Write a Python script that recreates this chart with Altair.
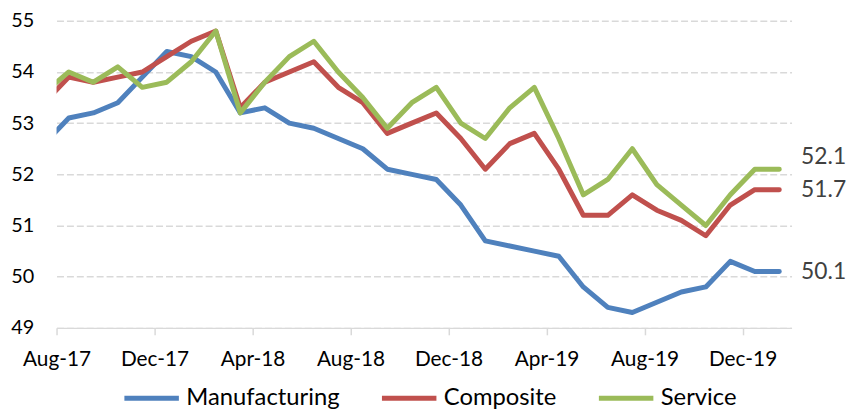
import json
import altair as alt
import pandas as pd

# Monthly PMI readings (first value lies before the axis start and is clipped)
manufacturing = [52.6, 53.1, 53.2, 53.4, 53.9, 54.4, 54.3, 54.0, 53.2, 53.3, 53.0,
                 52.9, 52.7, 52.5, 52.1, 52.0, 51.9, 51.4, 50.7, 50.6, 50.5, 50.4,
                 49.8, 49.4, 49.3, 49.5, 49.7, 49.8, 50.3, 50.1, 50.1]
composite = [53.4, 53.9, 53.8, 53.9, 54.0, 54.3, 54.6, 54.8, 53.3, 53.8, 54.0,
             54.2, 53.7, 53.4, 52.8, 53.0, 53.2, 52.7, 52.1, 52.6, 52.8, 52.1,
             51.2, 51.2, 51.6, 51.3, 51.1, 50.8, 51.4, 51.7, 51.7]
service = [53.6, 54.0, 53.8, 54.1, 53.7, 53.8, 54.2, 54.8, 53.2, 53.8, 54.3,
           54.6, 54.0, 53.5, 52.9, 53.4, 53.7, 53.0, 52.7, 53.3, 53.7, 52.7,
           51.6, 51.9, 52.5, 51.8, 51.4, 51.0, 51.6, 52.1, 52.1]

series_names = ["Manufacturing", "Composite", "Service"]
series_colors = ["#4F81BD", "#C0504D", "#9BBB59"]
tick_labels = ["Aug-17", "Dec-17", "Apr-18", "Aug-18", "Dec-18", "Apr-19", "Aug-19", "Dec-19"]
y_ticks = [49, 50, 51, 52, 53, 54, 55]

rows = []
for name, vals in zip(series_names, [manufacturing, composite, service]):
    for i, v in enumerate(vals):
        # month index; each point sits mid-month, axis starts at 0 (Aug-17)
        rows.append({"m": i - 0.5, "value": v, "series": name})
df = pd.DataFrame(rows)
last_m = df["m"].max()

FONT = "Lato"

color = alt.Color(
    "series:N",
    scale=alt.Scale(domain=series_names, range=series_colors),
    legend=alt.Legend(
        title=None,
        orient="none",
        direction="horizontal",
        legendX=66,
        legendY=351,
        symbolType="stroke",
        symbolSize=3025,
        symbolStrokeWidth=5,
        labelFont=FONT,
        labelFontSize=24,
        labelColor="#000000",
        labelLimit=400,
        labelOffset=5,
        columnPadding=32,
    ),
)

x = alt.X(
    "m:Q",
    scale=alt.Scale(domain=[0, 30], nice=False, zero=False),
    axis=alt.Axis(
        title=None,
        values=[0, 4, 8, 12, 16, 20, 24, 28],
        labelExpr=json.dumps(tick_labels) + "[round(datum.value / 4)]",
        labelOverlap=False,
        labelFlush=False,
        grid=False,
        tickSize=7,
        tickColor="#d9d9d9",
        tickWidth=1.5,
        domainColor="#d9d9d9",
        domainWidth=1.5,
        labelFont=FONT,
        labelFontSize=21,
        labelColor="#000000",
        labelPadding=14,
    ),
)
y = alt.Y(
    "value:Q",
    scale=alt.Scale(domain=[49, 55], nice=False, zero=False),
    axis=alt.Axis(
        title=None,
        values=y_ticks,
        format="d",
        grid=True,
        gridColor="#d9d9d9",
        gridDash=[7, 3],
        gridWidth=1.5,
        domain=False,
        ticks=False,
        labelFont=FONT,
        labelFontSize=20,
        labelColor="#000000",
        labelPadding=23,
    ),
)

lines = alt.Chart(df).mark_line(
    strokeWidth=5, clip=True, strokeJoin="round", strokeCap="round"
).encode(x=x, y=y, color=color)

last = alt.Chart(df).transform_filter(alt.datum.m == last_m)

labels_main = last.transform_filter(alt.datum.series != "Service").mark_text(
    align="left", baseline="middle", dx=22, font=FONT, fontSize=23, color="#404040"
).encode(x="m:Q", y="value:Q", text=alt.Text("value:Q", format=".1f"))

labels_service = last.transform_filter(alt.datum.series == "Service").mark_text(
    align="left", baseline="middle", dx=22, dy=-12, font=FONT, fontSize=23, color="#404040"
).encode(x="m:Q", y="value:Q", text=alt.Text("value:Q", format=".1f"))

chart = alt.layer(lines, labels_main, labels_service).properties(
    width=742,
    height=310,
    autosize=alt.AutoSizeParams(type="none"),
    padding={"left": 49, "top": 11, "right": 59, "bottom": 82},
    background="white",
).configure_view(stroke=None)

chart.save("out.html", embed_options={"renderer": "svg", "actions": False})
